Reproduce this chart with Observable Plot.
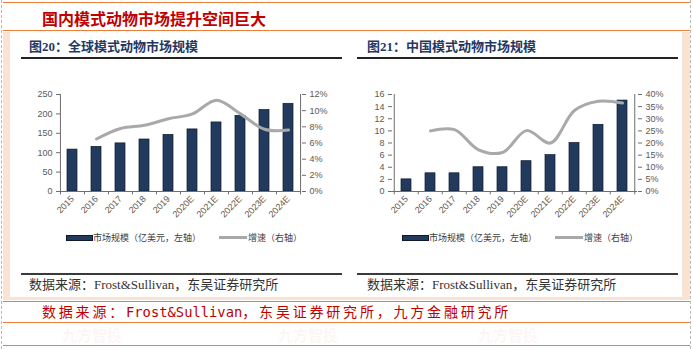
<!DOCTYPE html>
<html>
<head>
<meta charset="utf-8">
<script src="https://cdn.jsdelivr.net/npm/d3@7"></script>
<script src="https://cdn.jsdelivr.net/npm/@observablehq/plot@0.6"></script>
<style>
  body { margin: 0; background: #fff; }
  #root { position: relative; width: 693px; height: 349px; overflow: hidden; background: #fff; font-family: "Noto Sans CJK SC", sans-serif; }
  .abs { position: absolute; }
  .hline { position: absolute; height: 0; }
  .txt { position: absolute; white-space: nowrap; line-height: 1; }
  .plot svg { overflow: visible; }
</style>
</head>
<body>
<div id="root"></div>
<script>
// ---------- data ----------
const years = ["2015", "2016", "2017", "2018", "2019", "2020E", "2021E", "2022E", "2023E", "2024E"];
const globalSize = [108, 115, 124, 134, 146, 160, 178, 195, 210, 226];      // 亿美元
const globalGrowth = [null, 6.5, 7.8, 8.2, 9.0, 9.6, 11.3, 9.6, 7.7, 7.6];  // %
const chinaSize = [2, 3, 3, 4, 4, 5, 6, 8, 11, 15];                          // 亿美元
const chinaGrowth = [null, 25, 25.5, 17.2, 16.1, 25.1, 20, 33.4, 37.2, 36.5]; // %
const globalLeftTicks = [0, 50, 100, 150, 200, 250];
const globalRightTicks = [0, 2, 4, 6, 8, 10, 12];
const chinaLeftTicks = [0, 2, 4, 6, 8, 10, 12, 14, 16];
const chinaRightTicks = [0, 5, 10, 15, 20, 25, 30, 35, 40];

const mainTitle = "国内模式动物市场提升空间巨大";
const chartTitles = ["图20：全球模式动物市场规模", "图21：中国模式动物市场规模"];
const legendBar = "市场规模（亿美元，左轴）";
const legendLine = "增速（右轴）";
const sourceText = "数据来源：Frost&Sullivan，东吴证券研究所";

const root = document.getElementById("root");
function add(tag, cls, style, html) {
  const el = document.createElement(tag);
  if (cls) el.className = cls;
  Object.assign(el.style, style);
  if (html != null) el.innerHTML = html;
  root.appendChild(el);
  return el;
}

// ---------- frame decorations ----------
add("div", "abs", {left: "3px", top: "32px", width: "687px", height: "268px", background: "#fbe3d4"});
add("div", "abs", {left: "10px", top: "32px", width: "672px", height: "265px", background: "#fff"});
add("div", "abs", {left: "1px", top: "0px", width: "0", height: "349px", borderLeft: "1px dashed #b8b8b8"});
add("div", "abs", {left: "690px", top: "0px", width: "0", height: "349px", borderLeft: "1px dashed #b8b8b8"});
[3, 31, 302, 323, 346].forEach(y =>
  add("div", "hline", {left: "3px", top: (y - 1) + "px", width: "687px", borderTop: "1.5px solid #ee7d3a"}));

// faint watermarks
[[62, 327], [278, 327], [478, 327]].forEach(([x, y]) =>
  add("div", "txt", {left: x + "px", top: y + "px", fontSize: "15px", fontWeight: "bold", color: "rgba(238,125,58,0.08)"}, "九方智投"));

add("div", "txt", {left: "42px", top: "10px", fontSize: "16px", fontWeight: "bold", color: "#c00000", fontFamily: "'Noto Sans CJK SC'"}, mainTitle);

// ---------- charts ----------
function makeChart(sizes, growth, leftMax, rightMax, leftTicks, rightTicks, ml, width) {
  const mr = width - ml - 241 - (ml === 50 ? 0 : 4);
  const data = years.map((year, i) => ({year, size: sizes[i], growth: growth[i]}));
  const k = leftMax / rightMax;
  const n = years.length;
  const bw = (width - ml - mr) / n;
  const axisColor = "#6e6e6e";
  return Plot.plot({
    width, height: 160,
    marginLeft: ml, marginRight: mr, marginTop: 34, marginBottom: 29,
    style: {fontFamily: "'Liberation Sans', Arial, sans-serif", fontSize: "9px", color: "#595959", background: "transparent"},
    x: {domain: years, paddingInner: 0.58, paddingOuter: 0.29, label: null},
    y: {domain: [0, leftMax], label: null},
    marks: [
      Plot.barY(data, {x: "year", y: "size", fill: "#223a5e", stroke: "#0e1a2c", strokeWidth: 0.7}),
      Plot.line(data.filter(d => d.growth != null), {x: "year", y: d => d.growth * k, stroke: "#a9a9a9", strokeWidth: 3, curve: "catmull-rom"}),
      // axis lines
      Plot.ruleY([0], {stroke: axisColor}),
      Plot.ruleX([years[0]], {x: d => d, y1: 0, y2: leftMax, dx: -bw / 2, stroke: axisColor}),
      Plot.ruleX([years[n - 1]], {x: d => d, y1: 0, y2: leftMax, dx: bw / 2, stroke: axisColor}),
      // bottom ticks at band boundaries
      Plot.ruleX(years, {x: d => d, y1: 0, y2: -leftMax * 0.035, dx: -bw / 2, stroke: axisColor}),
      Plot.ruleX([years[n - 1]], {x: d => d, y1: 0, y2: -leftMax * 0.035, dx: bw / 2, stroke: axisColor}),
      Plot.axisY({anchor: "left", ticks: leftTicks, tickSize: 4, tickPadding: 4, stroke: axisColor, label: null}),
      Plot.axisY({anchor: "right", ticks: rightTicks.map(v => v * k), tickFormat: d => Math.round(d / k) + "%", tickSize: 4, tickPadding: 4, stroke: axisColor, label: null}),
      Plot.axisX({anchor: "bottom", tickSize: 0, tickPadding: 6, tickRotate: -45, label: null})
    ]
  });
}

const charts = [
  {x0: 10, ml: 50, width: 331, sizes: globalSize, growth: globalGrowth, lm: 250, rm: 12, lt: globalLeftTicks, rt: globalRightTicks, rule: [21, 342], src: 29, legBar: 66, legLine: 219},
  {x0: 345, ml: 47, width: 332, sizes: chinaSize, growth: chinaGrowth, lm: 16, rm: 40, lt: chinaLeftTicks, rt: chinaRightTicks, rule: [357, 678], src: 367, legBar: 402, legLine: 555}
];

charts.forEach((c, idx) => {
  const wrap = add("div", "abs plot", {left: c.x0 + "px", top: "60px"});
  wrap.appendChild(makeChart(c.sizes, c.growth, c.lm, c.rm, c.lt, c.rt, c.ml, c.width));

  add("div", "txt", {left: (c.src) + "px", top: "40px", fontSize: "13px", fontWeight: "bold", color: "#1f3864", fontFamily: "'Liberation Serif', 'Noto Sans CJK SC'"}, chartTitles[idx]);
  add("div", "hline", {left: c.rule[0] + "px", top: "57px", width: (c.rule[1] - c.rule[0]) + "px", borderTop: "2px solid #222"});
  add("div", "hline", {left: c.rule[0] + "px", top: "273px", width: (c.rule[1] - c.rule[0]) + "px", borderTop: "2px solid #3a3a3a"});
  add("div", "txt", {left: c.src + "px", top: "278px", fontSize: "13px", color: "#333", fontFamily: "'Liberation Serif', 'Noto Sans CJK SC'"}, sourceText);

  // legend
  add("div", "abs", {left: c.legBar + "px", top: "235px", width: "25px", height: "4px", background: "#223a5e", border: "0.7px solid #0e1a2c"});
  add("div", "txt", {left: (c.legBar + 27) + "px", top: "233px", fontSize: "9px", color: "#404040"}, legendBar);
  add("div", "abs", {left: c.legLine + "px", top: "236px", width: "28px", height: "3px", background: "#a9a9a9"});
  add("div", "txt", {left: (c.legLine + 29) + "px", top: "233px", fontSize: "9px", color: "#404040"}, legendLine);
});

// red source line
add("div", "txt", {left: "42px", top: "305px", fontSize: "14px", color: "#c00000", fontFamily: "'DejaVu Sans Mono', 'Noto Sans CJK SC', monospace"},
  '<span style="letter-spacing:2.8px">数据来源：</span><span style="font-size:13.8px">Frost&amp;Sullivan</span><span style="letter-spacing:2.8px">，东吴证券研究所，九方金融研究所</span>');
</script>
</body>
</html>
